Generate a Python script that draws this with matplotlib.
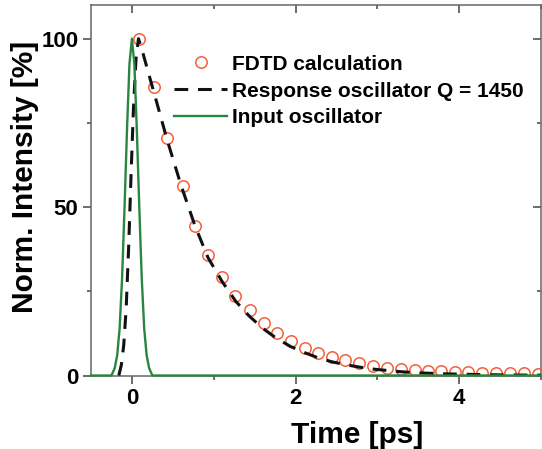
import matplotlib
matplotlib.use("Agg")
import matplotlib.pyplot as plt
from matplotlib.ticker import MultipleLocator

plt.rcParams['font.family'] = ['Liberation Sans', 'DejaVu Sans']
plt.rcParams['font.weight'] = 'bold'

# FDTD calculation (circles)
fdtd_t = [0.09, 0.27, 0.43, 0.62, 0.77, 0.93, 1.10, 1.26, 1.44, 1.61, 1.77, 1.94,
          2.11, 2.27, 2.44, 2.61, 2.78, 2.95, 3.12, 3.29, 3.46, 3.62, 3.78, 3.95,
          4.11, 4.28, 4.45, 4.62, 4.79, 4.96]
fdtd_i = [100, 85.6, 70.6, 56.2, 44.5, 35.8, 29.1, 23.7, 19.3, 15.6, 12.6, 10.2,
          8.2, 6.6, 5.5, 4.5, 3.7, 2.9, 2.3, 2.0, 1.7, 1.4, 1.2, 1.0,
          0.9, 0.8, 0.7, 0.6, 0.6, 0.5]

# Response oscillator Q = 1450 (dashed)
resp_t = [-0.16, -0.13, -0.10, -0.07, -0.04, -0.01, 0.02, 0.05, 0.08, 0.12, 0.20,
          0.27, 0.43, 0.60, 0.77, 0.93, 1.10, 1.27, 1.44, 1.61, 1.77, 1.94, 2.11,
          2.27, 2.44, 2.61, 2.78, 2.95, 3.12, 3.30, 3.50, 3.80, 4.20, 4.60, 5.00]
resp_i = [0, 3, 9, 20, 38, 60, 80, 94, 100, 97, 90,
          84, 70, 56.5, 44.5, 35, 28, 22, 17.5, 13.8, 11, 8.6, 6.8,
          5.3, 4.1, 3.2, 2.5, 1.9, 1.5, 1.1, 0.8, 0.5, 0.3, 0.15, 0.1]

# Input oscillator (green)
inp_t = [-0.5, -0.25, -0.21, -0.18, -0.15, -0.12, -0.09, -0.06, -0.03, 0.0,
         0.03, 0.06, 0.09, 0.12, 0.15, 0.18, 0.21, 0.25, 5.0]
inp_i = [0, 0, 2.2, 6, 14, 29, 50, 73, 92.5, 100,
         92.5, 73, 50, 29, 14, 6, 2.2, 0, 0]

xticks = [0, 2, 4]
yticks = [0, 50, 100]

fig = plt.figure(figsize=(5.42, 4.49), dpi=100)
ax = fig.add_axes([91/542, 1-375.5/449, 450/542, 370.5/449])

ax.plot(fdtd_t, fdtd_i, 'o', mfc='none', mec='#f2603c', ms=8.2, mew=1.1,
        label='FDTD calculation', zorder=3)
ax.plot(resp_t, resp_i, color='#111111', lw=2.2, dashes=(4.5, 3.2),
        label='Response oscillator Q = 1450', zorder=4)
ax.plot(inp_t, inp_i, color='#2a8540', lw=1.7, label='Input oscillator',
        zorder=5, clip_on=False)

ax.set_xlim(-0.5, 5)
ax.set_ylim(0, 110)
ax.set_xticks(xticks)
ax.set_yticks(yticks)
ax.xaxis.set_minor_locator(MultipleLocator(1))
ax.yaxis.set_minor_locator(MultipleLocator(25))

for s in ax.spines.values():
    s.set_color('#666666')
    s.set_linewidth(1.1)

ax.tick_params(which='major', direction='out', length=6, width=1.1,
               color='#444444', labelsize=16, pad=3)
ax.tick_params(which='minor', direction='out', length=3, width=1.1,
               color='#444444')
for lab in ax.get_xticklabels() + ax.get_yticklabels():
    lab.set_fontweight('bold')

# mirrored inward ticks on top and right
secx = ax.secondary_xaxis('top')
secx.set_xticks(xticks)
secx.xaxis.set_minor_locator(MultipleLocator(1))
secx.tick_params(which='major', direction='in', length=6, width=1.1, color='#444444', labeltop=False)
secx.tick_params(which='minor', direction='in', length=3, width=1.1, color='#444444')
secx.spines['top'].set_visible(False)
secy = ax.secondary_yaxis('right')
secy.set_yticks(yticks)
secy.yaxis.set_minor_locator(MultipleLocator(25))
secy.tick_params(which='major', direction='in', length=6, width=1.1, color='#444444', labelright=False)
secy.tick_params(which='minor', direction='in', length=3, width=1.1, color='#444444')
secy.spines['right'].set_visible(False)

ax.set_xlabel('Time [ps]', fontsize=21.5, fontweight='bold')
ax.set_ylabel('Norm. Intensity [%]', fontsize=21.5, fontweight='bold')
ax.xaxis.set_label_coords(0.592, -0.122)
ax.yaxis.set_label_coords(-0.115, 0.535)

leg = ax.legend(loc='upper left', bbox_to_anchor=(0.1855, 0.866), frameon=False,
                fontsize=15, handlelength=2.5, handletextpad=0.25,
                labelspacing=0.38, borderaxespad=0, borderpad=0)
for t in leg.get_texts():
    t.set_fontweight('bold')

fig.savefig('out.png', dpi=100)
